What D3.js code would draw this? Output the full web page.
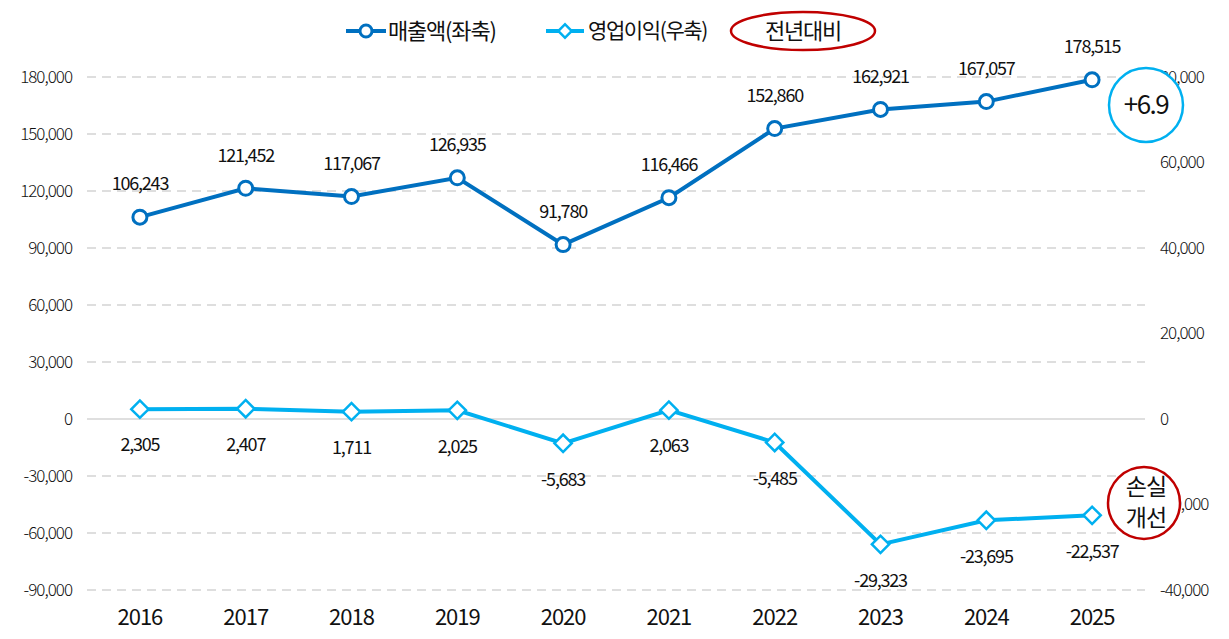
<!DOCTYPE html>
<html>
<head>
<meta charset="utf-8">
<script src="https://cdn.jsdelivr.net/npm/d3@7/dist/d3.min.js"></script>
<style>
  body { margin: 0; background: #fff; }
  text { font-family: "Noto Sans CJK KR", "Noto Sans", sans-serif; fill: #111; }
</style>
</head>
<body>
<svg id="chart" width="1229" height="639"></svg>
<script>
// Chart data
const years = ['2016', '2017', '2018', '2019', '2020', '2021', '2022', '2023', '2024', '2025'];
const sales = [106243, 121452, 117067, 126935, 91780, 116466, 152860, 162921, 167057, 178515];
const profit = [2305, 2407, 1711, 2025, -5683, 2063, -5485, -29323, -23695, -22537];
const leftTicks = [180000, 150000, 120000, 90000, 60000, 30000, 0, -30000, -60000, -90000];
const rightTicks = [80000, 60000, 40000, 20000, 0, -20000, -40000];

const svg = d3.select('#chart');
const plot = { left: 87, right: 1145, top: 77, bottom: 590 };

const darkBlue = '#0070C0';
const lightBlue = '#00B0F0';
const red = '#C00000';
const fmt = d => d3.format(',')(d).replace('−', '-');

const x = d3.scaleBand().domain(years).range([plot.left, plot.right]);
const yL = d3.scaleLinear().domain([-90000, 180000]).range([plot.bottom, plot.top]);
const yR = d3.scaleLinear().domain([-40000, 80000]).range([plot.bottom, plot.top]);
const cx = d => x(d) + x.bandwidth() / 2;

// Gridlines
svg.selectAll('.grid')
    .data(leftTicks)
    .enter()
    .append('line')
    .attr('x1', plot.left)
    .attr('x2', plot.right)
    .attr('y1', d => yL(d))
    .attr('y2', d => yL(d))
    .attr('stroke', '#d4d4d4')
    .attr('stroke-width', 1.5)
    .attr('stroke-dasharray', d => d === 0 ? null : '9,6');

// Left axis labels
svg.selectAll('.ltick')
    .data(leftTicks)
    .enter()
    .append('text')
    .attr('x', 72)
    .attr('y', d => yL(d))
    .attr('dy', '0.35em')
    .attr('text-anchor', 'end')
    .attr('font-size', '17px')
    .attr('font-weight', 300)
    .attr('letter-spacing', '-1px')
    .text(fmt);

// Right axis labels
svg.selectAll('.rtick')
    .data(rightTicks)
    .enter()
    .append('text')
    .attr('x', 1160)
    .attr('y', d => yR(d))
    .attr('dy', '0.35em')
    .attr('font-size', '17px')
    .attr('font-weight', 300)
    .attr('letter-spacing', '-1px')
    .text(fmt);

// Year labels
svg.selectAll('.year')
    .data(years)
    .enter()
    .append('text')
    .attr('x', d => cx(d))
    .attr('y', 617)
    .attr('dy', '0.35em')
    .attr('text-anchor', 'middle')
    .attr('font-size', '22px')
    .attr('letter-spacing', '-1px')
    .text(d => d);

// Lines
const salesLine = d3.line().x((d, i) => cx(years[i])).y(d => yL(d));
const profitLine = d3.line().x((d, i) => cx(years[i])).y(d => yR(d));

svg.append('path')
    .datum(sales)
    .attr('d', salesLine)
    .attr('fill', 'none')
    .attr('stroke', darkBlue)
    .attr('stroke-width', 4);

svg.append('path')
    .datum(profit)
    .attr('d', profitLine)
    .attr('fill', 'none')
    .attr('stroke', lightBlue)
    .attr('stroke-width', 4);

// Markers
svg.selectAll('.salesPt')
    .data(sales)
    .enter()
    .append('circle')
    .attr('cx', (d, i) => cx(years[i]))
    .attr('cy', d => yL(d))
    .attr('r', 7)
    .attr('fill', '#fff')
    .attr('stroke', darkBlue)
    .attr('stroke-width', 3);

const diamond = d3.symbol().type(d3.symbolSquare).size(150);
svg.selectAll('.profitPt')
    .data(profit)
    .enter()
    .append('path')
    .attr('d', diamond)
    .attr('transform', (d, i) => `translate(${cx(years[i])},${yR(d)}) rotate(45)`)
    .attr('fill', '#fff')
    .attr('stroke', lightBlue)
    .attr('stroke-width', 2.5);

// Value labels
svg.selectAll('.salesLbl')
    .data(sales)
    .enter()
    .append('text')
    .attr('x', (d, i) => cx(years[i]))
    .attr('y', d => yL(d) - 33)
    .attr('dy', '0.35em')
    .attr('text-anchor', 'middle')
    .attr('font-size', '18px')
    .attr('letter-spacing', '-1.2px')
    .text(fmt);

svg.selectAll('.profitLbl')
    .data(profit)
    .enter()
    .append('text')
    .attr('x', (d, i) => cx(years[i]))
    .attr('y', d => yR(d) + 36)
    .attr('dy', '0.35em')
    .attr('text-anchor', 'middle')
    .attr('font-size', '18px')
    .attr('letter-spacing', '-1.2px')
    .text(fmt);

// Legend
const lg = svg.append('g');
lg.append('line').attr('x1', 346).attr('x2', 386).attr('y1', 31).attr('y2', 31)
    .attr('stroke', darkBlue).attr('stroke-width', 4);
lg.append('circle').attr('cx', 366).attr('cy', 31).attr('r', 6)
    .attr('fill', '#fff').attr('stroke', darkBlue).attr('stroke-width', 3);
lg.append('text').attr('x', 388).attr('y', 31).attr('dy', '0.35em')
    .attr('font-size', '22px').attr('letter-spacing', '-1.2px').text('매출액(좌축)');

lg.append('line').attr('x1', 546).attr('x2', 584).attr('y1', 31).attr('y2', 31)
    .attr('stroke', lightBlue).attr('stroke-width', 4);
lg.append('path').attr('d', d3.symbol().type(d3.symbolSquare).size(90))
    .attr('transform', 'translate(565,31) rotate(45)')
    .attr('fill', '#fff').attr('stroke', lightBlue).attr('stroke-width', 2.5);
lg.append('text').attr('x', 588).attr('y', 31).attr('dy', '0.35em')
    .attr('font-size', '21px').attr('letter-spacing', '-1.4px').text('영업이익(우축)');

lg.append('ellipse').attr('cx', 803).attr('cy', 31).attr('rx', 72).attr('ry', 19)
    .attr('fill', 'none').attr('stroke', red).attr('stroke-width', 2.5);
lg.append('text').attr('x', 803).attr('y', 31).attr('dy', '0.35em')
    .attr('text-anchor', 'middle').attr('font-size', '22px').attr('letter-spacing', '-1.2px').text('전년대비');

// Callouts
svg.append('circle').attr('cx', 1146).attr('cy', 105).attr('r', 37)
    .attr('fill', '#fff').attr('stroke', lightBlue).attr('stroke-width', 2.5);
svg.append('text').attr('x', 1146).attr('y', 105).attr('dy', '0.35em')
    .attr('text-anchor', 'middle').attr('font-size', '26px').attr('letter-spacing', '-1.5px').text('+6.9');

svg.append('circle').attr('cx', 1144).attr('cy', 503).attr('r', 36)
    .attr('fill', '#fff').attr('stroke', red).attr('stroke-width', 2.5);
svg.append('text').attr('x', 1146).attr('y', 487).attr('dy', '0.35em')
    .attr('text-anchor', 'middle').attr('font-size', '23px').attr('letter-spacing', '-1px').text('손실');
svg.append('text').attr('x', 1146).attr('y', 518).attr('dy', '0.35em')
    .attr('text-anchor', 'middle').attr('font-size', '23px').attr('letter-spacing', '-1px').text('개선');
</script>
</body>
</html>
